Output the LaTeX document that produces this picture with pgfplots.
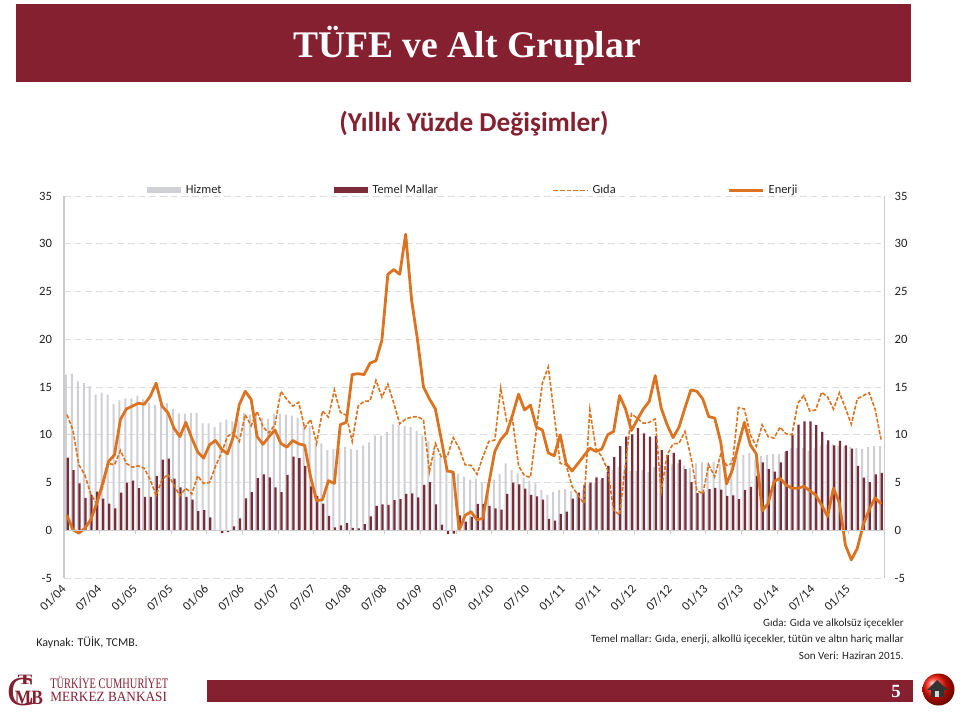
\documentclass[border=0pt]{standalone}
\usepackage{fontspec}
\usepackage{graphicx}
\usepackage{pgfplots}
\usepackage{pgfplotstable}
\pgfplotsset{compat=1.18}
\setmainfont{Carlito}
\newfontfamily\serifbold[BoldFont={Liberation Serif Bold}]{Liberation Serif}
\definecolor{tcmbred}{HTML}{84202F}
\definecolor{hizmetgray}{HTML}{CFCFD6}
\definecolor{temelred}{HTML}{7B2C38}
\definecolor{enerjiorange}{HTML}{DC7320}
\definecolor{gridgray}{HTML}{DDDDDD}
\definecolor{axisgray}{HTML}{CCCCCC}
\definecolor{labelgray}{HTML}{222222}

% months from 01/04 (0) to 06/15 (137)
\pgfplotstableread{
i hizmet temel gida enerji
0 16.3 7.6 12.1 1.6
1 16.4 6.3 10.5 0.05
2 15.6 4.9 6.85 -0.3
3 15.4 3.4 5.8 0.2
4 15.1 3.7 3.8 1.1
5 14.2 4.05 2.8 2.8
6 14.4 3.3 4.5 4.9
7 14.2 2.8 7.0 7.2
8 13.2 2.3 6.85 7.9
9 13.6 3.95 8.35 11.6
10 13.8 5.0 7.0 12.7
11 13.8 5.2 6.6 13.0
12 14.1 4.4 6.75 13.3
13 13.7 3.5 6.5 13.2
14 13.3 3.5 5.3 14.0
15 13.1 5.7 3.65 15.4
16 13.5 7.4 5.3 13.0
17 13.3 7.5 5.85 12.3
18 12.7 5.4 4.75 10.7
19 12.2 4.5 3.6 9.8
20 12.2 3.5 4.4 11.3
21 12.3 3.2 3.8 9.65
22 12.3 2.0 5.7 8.2
23 11.2 2.1 4.9 7.55
24 11.2 1.35 5.0 8.95
25 10.8 0 6.7 9.4
26 11.3 -0.3 8.1 8.5
27 11.6 -0.2 9.8 8.0
28 11.4 0.4 10.25 9.8
29 11.5 1.25 9.3 13.15
30 12.3 3.35 12.1 14.55
31 12.1 4.0 10.95 13.7
32 12.1 5.45 12.45 9.8
33 11.8 5.85 10.8 9.0
34 11.7 5.55 10.2 9.8
35 12.2 4.5 11.05 10.5
36 12.2 4.0 14.55 9.1
37 12.1 5.8 13.7 8.7
38 12.0 7.7 13.0 9.4
39 11.8 7.55 13.4 9.05
40 11.0 6.75 10.7 8.9
41 10.9 4.6 11.6 5.6
42 9.1 3.6 9.1 3.1
43 9.1 2.8 12.5 3.2
44 8.4 1.5 11.85 5.2
45 8.5 0.3 14.7 4.9
46 8.6 0.5 12.35 11.05
47 8.7 0.75 12.05 11.3
48 8.5 0.25 9.3 16.3
49 8.4 0.2 13.0 16.4
50 8.9 0.65 13.5 16.3
51 9.2 1.45 13.55 17.5
52 9.9 2.55 15.7 17.75
53 9.9 2.7 13.95 19.9
54 10.3 2.65 15.3 26.8
55 11.1 3.15 13.3 27.3
56 11.0 3.25 11.15 26.8
57 10.9 3.8 11.65 31.0
58 10.8 3.85 11.85 24.1
59 10.4 3.45 11.9 19.9
60 9.9 4.75 11.55 15.0
61 9.3 5.05 6.15 13.75
62 8.6 2.7 9.1 12.7
63 7.7 0.6 7.65 9.5
64 6.7 -0.4 7.7 6.2
65 6.2 -0.35 9.7 6.1
66 5.9 1.55 8.6 0
67 5.6 0.9 6.85 1.55
68 5.3 1.4 6.8 1.95
69 5.4 2.75 5.85 1.1
70 5.0 2.75 7.7 1.25
71 5.0 2.55 9.3 4.9
72 5.3 2.3 9.45 8.25
73 5.9 2.15 14.9 9.5
74 7.0 3.8 11.4 10.2
75 6.3 5.0 11.55 12.1
76 6.0 4.8 6.75 14.25
77 5.5 4.35 5.7 12.6
78 5.2 3.7 5.55 13.1
79 4.9 3.55 10.5 10.8
80 4.2 3.2 15.4 10.5
81 3.7 1.2 17.1 8.1
82 4.0 1.0 12.1 7.8
83 4.2 1.7 7.0 10.0
84 4.3 1.95 6.85 7.0
85 4.1 3.3 4.6 6.2
86 3.9 3.95 3.7 7.0
87 4.2 4.75 2.8 7.8
88 4.8 5.0 12.6 8.6
89 5.0 5.55 8.6 8.25
90 5.3 5.45 7.7 8.5
91 6.1 6.75 6.3 10.0
92 6.3 7.65 2.1 10.35
93 6.6 8.8 1.6 14.1
94 6.4 9.8 7.0 12.7
95 6.2 10.05 12.2 10.45
96 6.2 10.7 11.7 11.6
97 6.3 10.15 11.2 12.7
98 6.1 9.8 11.3 13.5
99 6.6 9.85 11.65 16.2
100 6.8 8.4 4.05 12.8
101 6.5 7.9 7.9 11.05
102 6.9 8.1 9.05 9.7
103 7.0 7.4 9.1 10.8
104 6.8 6.4 10.35 12.8
105 6.5 5.05 7.7 14.7
106 7.0 3.9 4.2 14.55
107 7.1 4.05 3.8 13.75
108 7.1 4.3 6.85 11.9
109 7.2 4.45 5.6 11.75
110 7.0 4.25 7.9 9.3
111 7.0 3.6 6.8 4.85
112 7.5 3.65 7.0 6.35
113 7.7 3.25 12.85 8.95
114 7.9 4.2 12.7 11.3
115 8.1 4.55 10.0 8.95
116 7.4 5.7 8.8 8.0
117 7.8 7.1 11.05 2.05
118 7.9 6.4 9.8 2.8
119 8.0 6.15 9.65 5.1
120 8.0 7.1 10.8 5.45
121 8.2 8.3 10.1 4.75
122 8.6 10.0 10.0 4.4
123 8.6 11.05 13.3 4.4
124 8.6 11.4 14.1 4.6
125 8.3 11.4 12.5 4.15
126 8.6 11.0 12.6 3.7
127 8.9 10.3 14.45 2.65
128 9.0 9.4 13.95 1.45
129 9.0 8.9 12.7 4.4
130 8.8 9.35 14.4 2.85
131 8.8 8.9 12.8 -1.55
132 8.7 8.55 11.1 -3.1
133 8.6 6.75 13.75 -1.9
134 8.5 5.5 14.1 0.55
135 8.7 5.05 14.4 2.15
136 8.8 5.85 12.7 3.4
137 8.8 6.0 9.5 2.75
}\cpi

\begin{document}
\begin{tikzpicture}
\useasboundingbox (0,0) rectangle (720pt,-533.25pt);

% header, footer and notes, in reference pixels
\begin{scope}[x=0.75pt,y=-0.75pt]
\fill[tcmbred] (16,4) rectangle (911,82);
\node[text=white,font=\serifbold\fontsize{28.2}{30}\selectfont\bfseries] at (467,46) {TÜFE ve Alt Gruplar};
\node[text=tcmbred,font=\fontsize{20.5}{22}\selectfont\bfseries] at (474,124) {(Yıllık Yüzde Değişimler)};
\node[anchor=west,inner sep=0,text=labelgray,font=\fontsize{9}{11}\selectfont] at (36,643) {Kaynak: TÜİK, TCMB.};
\node[anchor=east,inner sep=0,text=labelgray,font=\fontsize{8.3}{10}\selectfont] at (904,624) {Gıda: Gıda ve alkolsüz içecekler};
\node[anchor=east,inner sep=0,text=labelgray,font=\fontsize{8.3}{10}\selectfont] at (904,640) {Temel mallar: Gıda, enerji, alkollü içecekler, tütün ve altın hariç mallar};
\node[anchor=east,inner sep=0,text=labelgray,font=\fontsize{8.3}{10}\selectfont] at (904,656) {Son Veri: Haziran 2015.};
\fill[tcmbred] (207,680) rectangle (913,702);
\node[text=white,font=\serifbold\fontsize{14}{15}\selectfont\bfseries] at (896,691) {5};
% logo
\node[text=tcmbred,inner sep=0,font=\serifbold\fontsize{31}{31}\selectfont] at (21,692) {C};
\node[text=tcmbred,inner sep=0,font=\serifbold\bfseries] at (29,698) {\resizebox{21pt}{10pt}{MB}};
\node[text=tcmbred,inner sep=0,font=\serifbold\bfseries] at (25,680) {\resizebox{11pt}{7pt}{T}};
\node[anchor=west,inner sep=0,text=tcmbred,font=\serifbold] at (50,683) {\resizebox{88.5pt}{9pt}{TÜRKİYE CUMHURİYET}};
\node[anchor=west,inner sep=0,text=tcmbred,font=\serifbold] at (50,697) {\resizebox{87.5pt}{7pt}{MERKEZ BANKASI}};
% home button
\shade[ball color=red!85!orange] (938.5,689.5) circle (16);
\fill[black!80] (927,690) -- (937,680) -- (948,690) -- (944,690) -- (944,697) -- (931,697) -- (931,690) -- cycle;
\fill[white!85!black] (935,691) rectangle (939,697);
\end{scope}

% main axis: bars, lines, grid, left scale, date labels
\begin{axis}[
  at={(48pt,-433.5pt)}, anchor=south west,
  scale only axis, width=615pt, height=286.5pt,
  xmin=-0.5, xmax=137.5, ymin=-5, ymax=35,
  axis y line*=left, axis x line*=bottom,
  x axis line style={draw=none},
  y axis line style={draw=axisgray, line width=0.8pt, -},
  ymajorgrids, grid style={gridgray, dash pattern=on 5pt off 3pt, line width=0.5pt},
  major tick length=0pt,
  ytick={-5,0,5,10,15,20,25,30,35},
  yticklabels={-5,0,5,10,15,20,25,30,35},
  xtick={0,6,...,132},
  xticklabels={01/04,07/04,01/05,07/05,01/06,07/06,01/07,07/07,01/08,07/08,01/09,07/09,01/10,07/10,01/11,07/11,01/12,07/12,01/13,07/13,01/14,07/14,01/15},
  yticklabel style={text=labelgray, font=\fontsize{9.5}{11}\selectfont, xshift=-5.5pt},
  xticklabel style={text=labelgray, font=\fontsize{9.5}{11}\selectfont, rotate=45, anchor=north east, inner sep=0pt, xshift=-6.5pt, yshift=0.5pt},
  legend style={at={(rel axis cs:0.1012,1)}, anchor=south west, draw=none, fill=none, inner sep=0pt, yshift=-1.8pt,
    font=\fontsize{9.3}{11}\selectfont, text=labelgray, /tikz/every even column/.append style={column sep=0pt}},
  legend columns=4, legend cell align=left,
]
\addplot[ybar, bar width=1.5pt, bar shift=-0.75pt, draw=none, fill=hizmetgray,
  legend image code/.code={\fill[hizmetgray] (0pt,-2.2pt) rectangle (25.5pt,2.2pt);}] table[x=i,y=hizmet] {\cpi};
\addlegendentry{\hspace{1.5pt}\makebox[109pt][l]{Hizmet}}
\addplot[ybar, bar width=1.7pt, bar shift=0.5pt, draw=none, fill=temelred,
  legend image code/.code={\fill[temelred] (0pt,-2.2pt) rectangle (25.5pt,2.2pt);}] table[x=i,y=temel] {\cpi};
\addlegendentry{\hspace{1.5pt}\makebox[133pt][l]{Temel Mallar}}
\addplot[enerjiorange, line width=1.2pt, dash pattern=on 3pt off 1.3pt, sharp plot,
  legend image code/.code={\draw[enerjiorange, line width=1pt, dash pattern=on 3.5pt off 1.5pt] (0pt,0pt) -- (25.5pt,0pt);}] table[x=i,y=gida] {\cpi};
\addlegendentry{\hspace{1.5pt}\makebox[99pt][l]{Gıda}}
\addplot[enerjiorange, line width=2.1pt, line join=round, sharp plot,
  legend image code/.code={\draw[enerjiorange, line width=2.1pt] (0pt,0pt) -- (25.5pt,0pt);}] table[x=i,y=enerji] {\cpi};
\addlegendentry{\hspace{1.5pt}\makebox[40pt][l]{Enerji}}
\end{axis}

% second axis: zero line with its ticks, right scale
\begin{axis}[
  at={(48pt,-433.5pt)}, anchor=south west,
  scale only axis, width=615pt, height=286.5pt,
  xmin=-0.5, xmax=137.5, ymin=-5, ymax=35,
  axis y line*=right, axis x line=middle,
  axis line style={draw=axisgray, line width=0.7pt, -},
  xtick={-0.5,5.5,...,137.5}, xticklabels={},
  tick align=outside, x tick style={axisgray, line width=0.6pt},
  y tick style={draw=none},
  major tick length=3pt,
  ytick={-5,0,5,10,15,20,25,30,35},
  yticklabels={-5,0,5,10,15,20,25,30,35},
  yticklabel style={text=labelgray, font=\fontsize{9.5}{11}\selectfont, xshift=1.5pt},
]
\end{axis}
\end{tikzpicture}
\end{document}
